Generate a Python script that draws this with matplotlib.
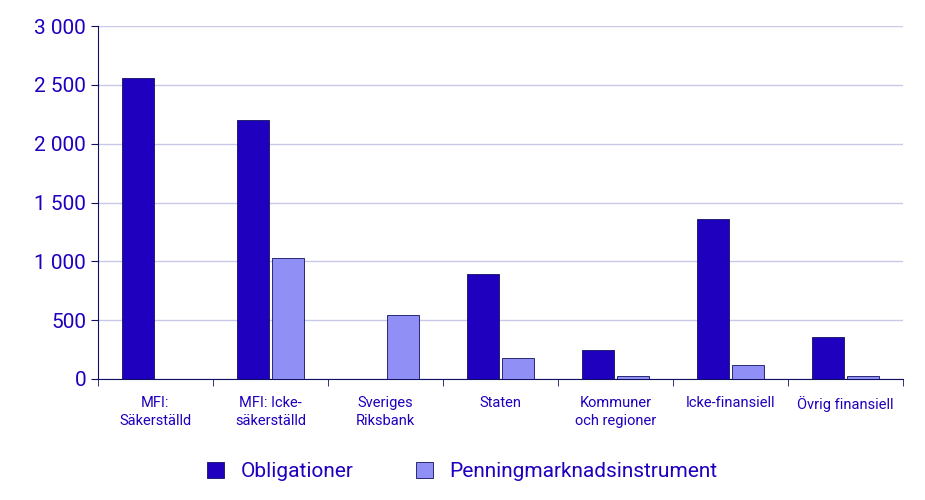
import numpy as np
import matplotlib.pyplot as plt
from matplotlib.ticker import FuncFormatter

categories = ['MFI:\nSäkerställd', 'MFI: Icke-\nsäkerställd', 'Sveriges\nRiksbank', 'Staten',
              'Kommuner\noch regioner', 'Icke-finansiell', 'Övrig finansiell']
obligationer = [2560, 2200, 0, 895, 250, 1360, 360]
penning = [0, 1030, 545, 180, 25, 120, 25]

dark = '#1E00BE'
light = '#8F8FF5'
plt.rcParams['font.family'] = ['Roboto', 'DejaVu Sans']

fig = plt.figure(figsize=(9.25, 5), dpi=100)
ax = fig.add_axes([98/925, 1-379/500, 805/925, 353/500])
x = np.arange(len(categories))
w = 0.28
ax.bar(x - w/2 - 0.01, obligationer, w, color=dark, edgecolor='#101060', linewidth=0.6,
       label='Obligationer', zorder=3)
ax.bar(x + w/2 + 0.01, penning, w, color=light, edgecolor='#101060', linewidth=0.6,
       label='Penningmarknadsinstrument', zorder=3)

ax.set_xlim(-0.5, len(categories) - 0.5)
ax.set_ylim(0, 3000)
ax.set_yticks(range(0, 3001, 500))
ax.yaxis.set_major_formatter(FuncFormatter(lambda v, p: f'{int(v):,}'.replace(',', ' ')))
ax.grid(axis='y', color='#C8C8E8', linewidth=1, zorder=0)
ax.set_xticks(x)
ax.set_xticklabels(categories, fontsize=10.5, color=dark, linespacing=1.4)
ax.set_xticks(np.arange(-0.5, len(categories), 1), minor=True)
ax.tick_params(axis='x', which='major', length=0, pad=12)
ax.tick_params(axis='x', which='minor', length=5, color='#101060')
ax.tick_params(axis='y', labelsize=15, colors=dark, length=5)
ax.tick_params(axis='y', color='#101060')
for s in ['top', 'right']:
    ax.spines[s].set_visible(False)
ax.spines['left'].set_color('#101060')
ax.spines['bottom'].set_color('#101060')

fig.legend(loc='lower center', bbox_to_anchor=(0.5, 0.0), ncol=2, frameon=False,
           fontsize=15, labelcolor=dark, handlelength=0.8, handleheight=0.8,
           columnspacing=3)
fig.savefig('out.png', dpi=100)
